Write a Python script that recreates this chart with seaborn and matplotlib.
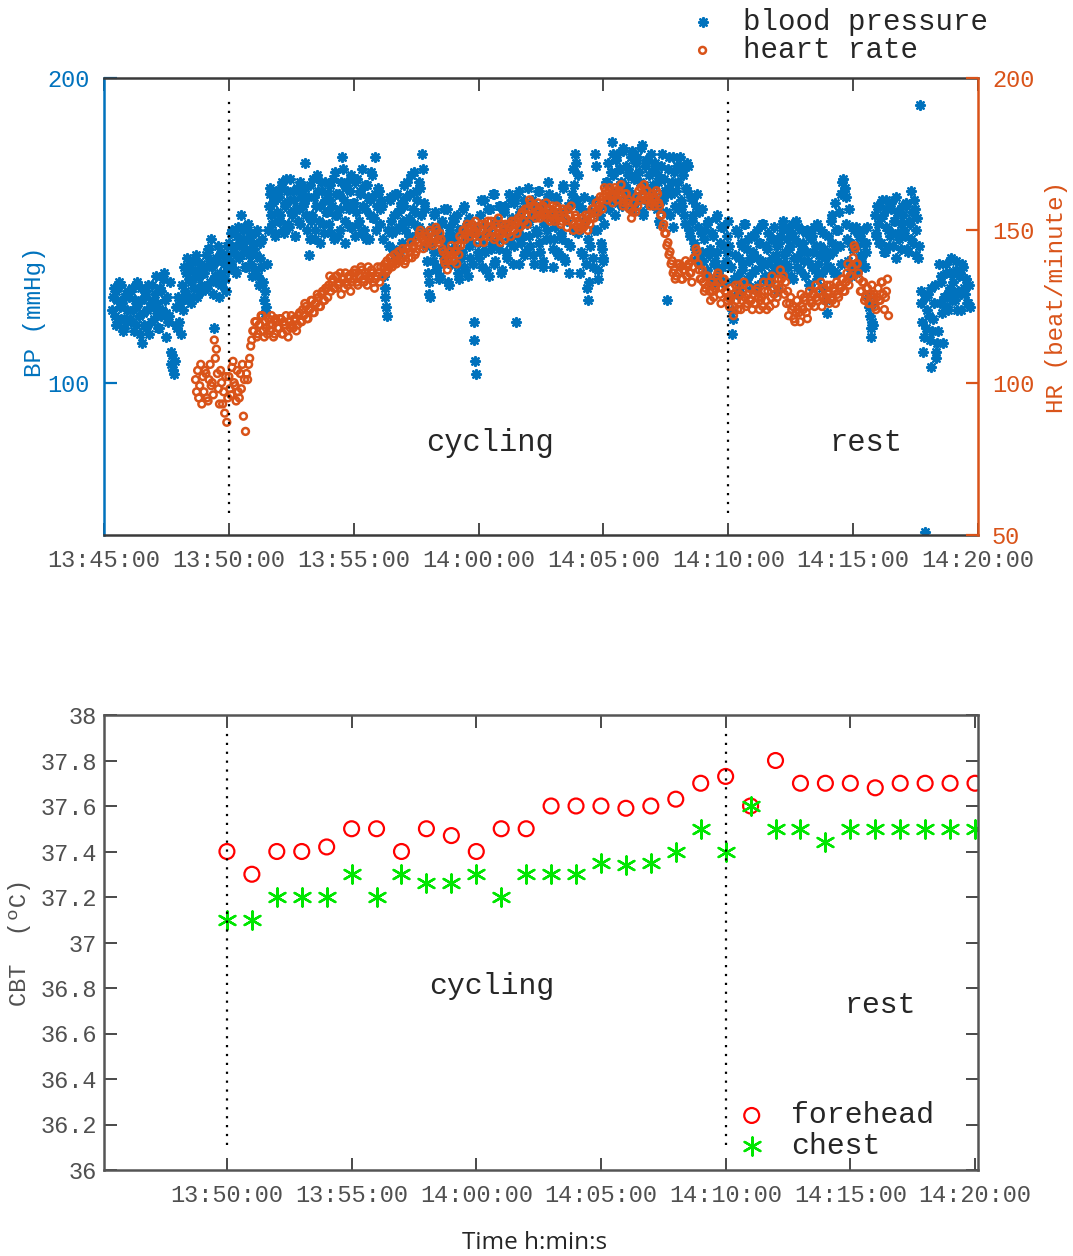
import matplotlib
matplotlib.use("Agg")
import matplotlib.pyplot as plt
import numpy as np
import pandas as pd
import seaborn as sns

# time axis, minutes after 13:45:00
time_ticks = [0, 5, 10, 15, 20, 25, 30, 35]
time_labels = ['13:45:00', '13:50:00', '13:55:00', '14:00:00',
               '14:05:00', '14:10:00', '14:15:00', '14:20:00']
phase_marks = [5, 25]  # cycling starts 13:50, rest starts 14:10

# blood pressure (mmHg), one reading every 2 s
bp_step = 2
bp_pre_start = 20  # seconds after 13:45:00
bp_pre = [124, 128, 131, 122, 119, 130, 127, 120, 133, 125, 121, 132, 126, 117, 118, 128, 129, 121, 124, 130,
          128, 121, 120, 130, 131, 124, 117, 127, 125, 119, 133, 126, 122, 116, 127, 131, 113, 123, 119, 128, 130, 118, 124, 132, 116, 125, 126, 120, 132, 127,
          121, 129, 135, 124, 126, 118, 118, 131, 130, 122, 124, 134, 136, 127, 115, 123, 128, 120, 122, 133, 106, 110, 109, 104, 103, 107, 125, 119, 118, 128,
          120, 126, 127, 116, 132, 124, 138, 130, 129, 136, 141, 127, 134, 139, 126, 133, 137, 128, 131, 140, 142, 135, 128, 137, 135, 130, 139, 132, 130, 136,
          136, 131, 142, 138, 131, 144, 144, 133, 147, 140, 138, 129, 118, 135, 133, 141, 140, 145, 128, 136, 143, 132, 135, 142, 139, 134, 130, 141, 145, 137]
bp_cycle_start = 300
bp_cycle = [146, 140, 139, 149, 150, 143, 143, 137, 136, 145, 148, 151, 141, 147, 155, 142, 145, 150, 151, 138, 138, 144, 147, 152, 142, 148, 149, 139, 135, 146,
            144, 149, 137, 142, 150, 135, 132, 146, 141, 138, 147, 133, 127, 130, 123, 125, 139, 150, 158, 162, 164, 155, 152, 159, 160, 149, 148, 163, 156, 153,
            161, 155, 153, 164, 166, 150, 149, 159, 158, 167, 163, 152, 151, 160, 167, 156, 155, 163, 160, 148, 148, 157, 164, 153, 157, 166, 152, 161, 162, 158,
            159, 164, 172, 155, 150, 161, 142, 147, 165, 153, 155, 167, 161, 150, 147, 158, 168, 163, 153, 146, 158, 166, 163, 152, 149, 160, 166, 156, 156, 162,
            152, 160, 165, 149, 158, 167, 147, 155, 169, 162, 155, 148, 162, 157, 150, 166, 174, 170, 160, 153, 146, 164, 166, 158, 157, 151, 163, 168, 151, 159,
            159, 166, 148, 156, 167, 152, 153, 163, 162, 149, 170, 158, 150, 165, 157, 147, 165, 161, 147, 155, 160, 169, 168, 154, 154, 162, 174, 150, 158, 164,
            163, 157, 152, 160, 158, 147, 135, 131, 128, 125, 122, 150, 145, 161, 160, 153, 149, 144, 155, 162, 142, 150, 162, 156, 151, 143, 157, 159, 146, 153,
            158, 165, 150, 161, 166, 153, 154, 148, 162, 168, 147, 157, 169, 152, 156, 163, 160, 149, 151, 166, 164, 155, 175, 170, 149, 159, 157, 145, 140, 136,
            133, 129, 128, 146, 151, 140, 143, 155, 156, 137, 138, 150, 148, 134, 135, 152, 153, 142, 145, 157, 140, 147, 157, 133, 132, 151, 149, 139, 144, 154,
            147, 153, 139, 144, 155, 136, 134, 150, 150, 141, 143, 157, 158, 138, 137, 148, 152, 135, 145, 154, 141, 149, 146, 139, 120, 114, 107, 103, 151, 143,
            148, 141, 155, 160, 138, 146, 160, 152, 143, 137, 151, 157, 135, 149, 157, 144, 146, 162, 162, 139, 140, 153, 153, 147, 144, 158, 158, 136, 137, 150,
            150, 156, 158, 143, 141, 152, 162, 147, 146, 160, 154, 139, 159, 145, 161, 120, 148, 151, 139, 163, 156, 146, 148, 157, 160, 142, 143, 153, 152, 164,
            153, 148, 145, 159, 160, 142, 139, 155, 157, 150, 149, 163, 163, 146, 143, 158, 155, 140, 138, 152, 159, 147, 150, 161, 166, 162, 147, 154, 156, 144,
            138, 147, 151, 161, 160, 142, 143, 155, 156, 149, 147, 164, 165, 141, 140, 157, 153, 146, 158, 136, 145, 159, 162, 150, 170, 165, 175, 172, 160, 168,
            149, 158, 136, 143, 157, 152, 142, 161, 153, 139, 131, 147, 127, 133, 145, 156, 160, 141, 138, 150, 175, 171, 150, 137, 134, 155, 155, 146, 144, 140,
            141, 152, 158, 166, 166, 160, 172, 157, 160, 169, 179, 175, 168, 162, 155, 173, 175, 159, 163, 170, 170, 166, 158, 176, 177, 164, 165, 171, 161, 168,
            170, 163, 162, 174, 176, 158, 157, 167, 168, 172, 174, 161, 160, 169, 166, 177, 178, 156, 155, 165, 171, 173, 164, 159, 173, 168, 159, 175, 169, 162,
            165, 170, 172, 158, 157, 166, 168, 153, 152, 171, 175, 160, 161, 167, 163, 156, 127, 164, 170, 174, 155, 162, 166, 151, 174, 169, 158, 163, 171, 157,
            166, 171, 174, 160, 158, 168, 170, 155, 152, 164, 163, 172, 171, 150, 148, 161, 160, 153, 155, 146, 144, 158, 162, 141, 151, 156, 139, 149, 157, 143,
            140, 147, 150, 136, 137, 152, 153, 142, 144, 134, 132, 149, 148, 139, 140, 154, 155, 143, 135, 137, 146, 151, 138, 133, 151, 145, 133, 140, 143, 148]
bp_rest_start = 1500
bp_rest = [153, 145, 128, 138, 116, 124, 121, 134, 142, 150, 135, 129, 149, 141, 131, 146, 145, 137, 139, 152, 152, 133, 134, 144, 147, 140, 141, 148, 136, 131,
           143, 148, 137, 131, 150, 141, 132, 146, 146, 138, 140, 152, 152, 134, 135, 145, 144, 139, 149, 133, 133, 147, 141, 136, 147, 151, 138, 142, 145, 130,
           140, 146, 148, 137, 136, 151, 153, 142, 143, 139, 150, 147, 138, 144, 145, 135, 152, 149, 134, 141, 147, 153, 141, 138, 151, 146, 137, 143, 144, 150,
           146, 140, 135, 149, 150, 143, 140, 132, 132, 147, 148, 138, 143, 151, 137, 145, 152, 134, 139, 142, 145, 150, 131, 136, 149, 144, 141, 127, 123, 138,
           148, 142, 138, 153, 155, 146, 143, 136, 159, 150, 136, 145, 150, 156, 145, 139, 162, 166, 167, 163, 164, 161, 152, 147, 140, 157, 146, 135, 137, 151,
           144, 150, 139, 136, 151, 145, 137, 148, 148, 141, 142, 139, 150, 146, 138, 143, 146, 151, 128, 125, 122, 118, 115, 120, 119, 126, 155, 149, 148, 158,
           152, 146, 158, 154, 146, 160, 155, 143, 143, 151, 160, 157, 150, 145, 148, 159, 157, 149, 145, 153, 153, 141, 161, 156, 149, 147, 156, 152, 144, 158,
           155, 150, 148, 158, 159, 144, 143, 153, 152, 147, 163, 156, 146, 160, 157, 142, 150, 154, 141, 145, 191, 130, 126, 120, 110, 115, 51, 128, 118, 124,
           129, 122, 114, 131, 105, 117, 121, 126, 132, 110, 108, 113, 117, 139, 126, 133, 135, 123, 113, 128, 128, 136, 139, 125, 124, 130, 131, 141, 136, 127,
           133, 128, 127, 137, 140, 124, 130, 135, 136, 129, 124, 139, 138, 131, 129, 134, 134, 126, 126, 132, 125]

# heart rate (beat/minute), one reading every 2.5 s
hr_step = 2.5
hr_pre_start = 220
hr_pre = [101, 97, 104, 95, 99, 106, 93, 102,
          97, 104, 103, 95, 94, 101, 106, 99, 100, 96, 114, 108, 111, 103, 98, 93, 104, 100, 93, 97, 90, 102, 87, 95]
hr_cycle_start = 300
hr_cycle = [102, 98, 96, 105, 107, 100, 99, 94, 104, 97, 95, 103, 98, 106, 89, 101, 84, 103, 101, 106, 108, 112, 114, 117,
            117, 120, 120, 115, 116, 119, 119, 122, 122, 117, 115, 120, 118, 116, 121, 119, 117, 122, 119, 115, 116, 121, 120, 118,
            118, 121, 121, 116, 116, 120, 119, 122, 117, 115, 120, 118, 122, 119, 118, 121, 121, 117, 119, 122, 123, 120, 120, 124,
            122, 126, 125, 121, 121, 124, 124, 127, 127, 123, 123, 126, 126, 129, 128, 125, 125, 129, 130, 127, 127, 131, 131, 128,
            132, 135, 130, 133, 134, 131, 131, 135, 135, 132, 133, 136, 129, 134, 134, 131, 136, 133, 132, 135, 135, 130, 133, 136,
            134, 137, 136, 133, 132, 135, 135, 138, 137, 134, 133, 136, 135, 132, 138, 135, 134, 137, 136, 133, 131, 134, 135, 138,
            136, 133, 138, 135, 135, 138, 139, 136, 140, 137, 138, 141, 141, 138, 139, 142, 142, 139, 140, 143, 143, 140, 141, 144,
            142, 139, 140, 144, 144, 141, 143, 146, 141, 144, 145, 142, 143, 147, 146, 149, 150, 148, 147, 144, 145, 148, 148, 146,
            147, 150, 149, 146, 145, 148, 148, 151, 150, 147, 146, 149, 147, 144, 143, 140, 139, 142, 137, 140, 141, 143, 145, 142,
            140, 143, 143, 139, 145, 142, 148, 145, 147, 150, 150, 147, 149, 152, 151, 148, 148, 151, 152, 149, 150, 153, 149, 146,
            151, 148, 148, 152, 150, 146, 152, 149, 149, 153, 151, 148, 153, 150, 150, 147, 148, 152, 151, 154, 149, 146, 152, 149,
            150, 147, 152, 149, 149, 152, 151, 148, 153, 150, 150, 153, 152, 149, 154, 151, 151, 155, 156, 153, 153, 157, 155, 152,
            157, 160, 159, 155, 155, 158, 158, 154, 156, 159, 157, 154, 155, 158, 158, 155, 156, 159, 154, 157, 157, 153, 155, 158,
            156, 153, 154, 158, 157, 154, 155, 152, 153, 157, 156, 154, 154, 151, 157, 155, 155, 158, 153, 150, 152, 155, 154, 151,
            153, 150, 151, 154, 154, 151, 152, 155, 153, 150, 155, 152, 154, 157, 157, 154, 156, 159, 159, 156, 158, 161, 160, 157,
            161, 164, 163, 160, 160, 163, 164, 161, 162, 159, 161, 164, 163, 160, 160, 163, 162, 165, 161, 158, 159, 162, 162, 159,
            160, 157, 157, 154, 156, 159, 159, 156, 161, 158, 163, 160, 164, 161, 162, 165, 160, 163, 163, 160, 161, 158, 159, 162,
            161, 158, 160, 163, 162, 159, 158, 155, 155, 151, 152, 149, 149, 145, 146, 142, 143, 139, 140, 136, 137, 134, 135, 139,
            136, 139, 138, 134, 134, 137, 137, 140, 135, 138, 139, 136, 136, 133, 138, 141, 141, 144, 143, 139, 137, 134, 134, 137,
            133, 130, 131, 135, 135, 132, 130, 127, 133, 130, 128, 131, 132, 135, 136, 133, 129, 126, 131, 134, 134, 130, 130, 127]
hr_rest_start = 1500
hr_rest = [128, 125, 131, 128, 125, 122, 129, 132, 127, 124, 132, 129, 124, 127, 130, 133, 128, 125, 126, 129, 131, 127, 127, 124,
           129, 126, 126, 130, 131, 128, 124, 127, 128, 125, 133, 130, 127, 124, 130, 133, 125, 128, 135, 131, 129, 126, 132, 128,
           134, 131, 137, 134, 131, 135, 129, 133, 126, 130, 122, 126, 128, 124, 125, 121, 120, 123, 127, 124, 123, 120, 129, 125,
           124, 128, 127, 123, 121, 125, 130, 127, 126, 129, 129, 125, 132, 128, 127, 130, 130, 133, 125, 128, 131, 127, 128, 132,
           129, 126, 132, 128, 127, 131, 130, 126, 133, 129, 128, 132, 131, 134, 134, 130, 130, 133, 136, 139, 132, 135, 135, 138,
           141, 145, 144, 139, 139, 136, 134, 130, 130, 133, 133, 127, 128, 131, 131, 126, 126, 129, 132, 128, 129, 125, 124, 128,
           131, 127, 127, 133, 133, 129, 124, 128, 130, 134, 122]

# core body temperature (ºC), once a minute from 13:50 to 14:20
cbt_minutes = [5, 6, 7, 8, 9, 10, 11, 12, 13, 14, 15, 16, 17, 18, 19, 20,
               21, 22, 23, 24, 25, 26, 27, 28, 29, 30, 31, 32, 33, 34, 35]
cbt_forehead = [37.40, 37.30, 37.40, 37.40, 37.42, 37.50, 37.50, 37.40, 37.50, 37.47,
                37.40, 37.50, 37.50, 37.60, 37.60, 37.60, 37.59, 37.60, 37.63, 37.70,
                37.73, 37.60, 37.80, 37.70, 37.70, 37.70, 37.68, 37.70, 37.70, 37.70, 37.70]
cbt_chest = [37.10, 37.10, 37.20, 37.20, 37.20, 37.30, 37.20, 37.30, 37.26, 37.26,
             37.30, 37.20, 37.30, 37.30, 37.30, 37.35, 37.34, 37.35, 37.40, 37.50,
             37.40, 37.60, 37.50, 37.50, 37.44, 37.50, 37.50, 37.50, 37.50, 37.50, 37.50]
cbt_ticks = [36.0, 36.2, 36.4, 36.6, 36.8, 37.0, 37.2, 37.4, 37.6, 37.8, 38.0]
cbt_tick_labels = ['36', '36.2', '36.4', '36.6', '36.8', '37',
                   '37.2', '37.4', '37.6', '37.8', '38']


def readings(start, step, values):
    secs = start + step * np.arange(len(values))
    return pd.DataFrame({'minute': secs / 60.0, 'value': values})


bp = pd.concat([readings(bp_pre_start, bp_step, bp_pre),
                readings(bp_cycle_start, bp_step, bp_cycle),
                readings(bp_rest_start, bp_step, bp_rest)], ignore_index=True)
hr = pd.concat([readings(hr_pre_start, hr_step, hr_pre),
                readings(hr_cycle_start, hr_step, hr_cycle),
                readings(hr_rest_start, hr_step, hr_rest)], ignore_index=True)
cbt = pd.DataFrame({'minute': cbt_minutes, 'forehead': cbt_forehead, 'chest': cbt_chest})

sns.set_style('ticks')
plt.rcParams['font.family'] = ['Liberation Mono', 'DejaVu Sans']

BLUE = '#0072BD'
ORANGE = '#D95319'
GRAY = '#505050'
DARK = '#3a3a3a'
W, H = 1073, 1256

fig = plt.figure(figsize=(W / 100, H / 100), dpi=100)

# ---- top panel: BP and HR
ax = fig.add_axes([104 / W, 1 - 535 / H, 874 / W, 457 / H])
ax2 = ax.twinx()

sns.scatterplot(data=bp, x='minute', y='value', ax=ax, marker=(8, 2, 0), s=40,
                color=BLUE, linewidth=1.7, legend=False)
sns.scatterplot(data=hr, x='minute', y='value', ax=ax2, marker='o', s=24,
                color=ORANGE, facecolor='none', edgecolor=ORANGE, linewidth=1.8,
                legend=False)

for m in phase_marks:
    ax2.axvline(m, ymin=0.048, ymax=0.958, color='black', linestyle=(0, (1, 3)),
                linewidth=1.6, zorder=5)

ax.set_xlim(0, 35)
ax.set_ylim(50, 200)
ax2.set_ylim(50, 200)
ax.set_xticks(time_ticks, time_labels)
ax.set_yticks([100, 200])
ax2.set_yticks([50, 100, 150, 200])
ax.set_xlabel('')
ax.set_ylabel('')
ax2.set_ylabel('')

ax.tick_params(axis='x', direction='in', length=9, width=1.3, color=DARK,
               labelcolor=GRAY, labelsize=17, pad=10, top=True)
ax.tick_params(axis='y', direction='in', length=9, width=1.6, color=BLUE,
               labelcolor=BLUE, labelsize=17, pad=10)
ax2.tick_params(axis='y', direction='in', length=9, width=1.6, color=ORANGE,
                labelcolor=ORANGE, labelsize=17, pad=10)

for s in ['top', 'bottom', 'left', 'right']:
    ax.spines[s].set_linewidth(1.8)
    ax2.spines[s].set_linewidth(1.8)
ax.spines['left'].set_color(BLUE)
ax.spines['right'].set_visible(False)
ax.spines['top'].set_color(DARK)
ax.spines['bottom'].set_color(DARK)
ax2.spines['left'].set_visible(False)
ax2.spines['top'].set_visible(False)
ax2.spines['bottom'].set_visible(False)
ax2.spines['right'].set_color(ORANGE)

ax.text(15.46, 80.2, 'cycling', ha='center', va='center', fontsize=22)
ax.text(30.5, 80.2, 'rest', ha='center', va='center', fontsize=22)

fig.text(35 / W, 1 - 312 / H, 'BP (mmHg)', rotation=90, color=BLUE,
         fontsize=17.5, ha='center', va='center')
fig.text(1057 / W, 1 - 297 / H, 'HR (beat/minute)', rotation=90, color=ORANGE,
         fontsize=17.5, ha='center', va='center')

fig.legend([ax.collections[0], ax2.collections[0]], ['blood pressure', 'heart rate'],
           loc='center left', bbox_to_anchor=(688 / W, 1 - 36 / H), frameon=False,
           fontsize=21, handlelength=1.0, handletextpad=0.87, labelspacing=0.0,
           borderpad=0, borderaxespad=0)

# ---- bottom panel: core body temperature
axb = fig.add_axes([104 / W, 1 - 1170 / H, 874 / W, 455 / H])
sns.scatterplot(data=cbt, x='minute', y='forehead', ax=axb, marker='o', s=115,
                color='red', facecolor='none', edgecolor='red', linewidth=1.6,
                label='forehead')
sns.scatterplot(data=cbt, x='minute', y='chest', ax=axb, marker=(6, 2, 0), s=170,
                color='#00E600', linewidth=1.7, label='chest')

for m in phase_marks:
    axb.axvline(m, ymin=0.055, ymax=0.96, color='black', linestyle=(0, (1, 3)),
                linewidth=1.6, zorder=3)

axb.set_xlim(0.07, 35.12)
axb.set_ylim(36, 38)
axb.set_xticks(time_ticks[1:], time_labels[1:])
axb.set_yticks(cbt_ticks, cbt_tick_labels)
axb.set_xlabel('')
axb.set_ylabel('')
axb.tick_params(axis='both', direction='in', length=9, width=1.3, color=DARK,
                labelcolor=GRAY, labelsize=17, top=True, right=True)
axb.tick_params(axis='x', pad=10)
axb.tick_params(axis='y', pad=5)
for s in ['top', 'bottom', 'left', 'right']:
    axb.spines[s].set_linewidth(1.8)
    axb.spines[s].set_color('#555555')

axb.text(15.63, 36.81, 'cycling', ha='center', va='center', fontsize=21.5)
axb.text(31.2, 36.725, 'rest', ha='center', va='center', fontsize=21.5)

axb.legend(loc='center left', bbox_to_anchor=(0.724, 0.0868), frameon=False,
           fontsize=21.5, handlelength=1.0, handletextpad=0.83, labelspacing=0.08,
           borderpad=0, borderaxespad=0)

fig.text(20 / W, 1 - 942 / H, 'CBT  (ºC)', rotation=90, color=GRAY,
         fontsize=17, ha='center', va='center')
fig.text(535 / W, 1 - 1243 / H, 'Time h:min:s', family='Open Sans',
         fontsize=17.5, ha='center', va='center')

fig.savefig('out.png', dpi=100)
